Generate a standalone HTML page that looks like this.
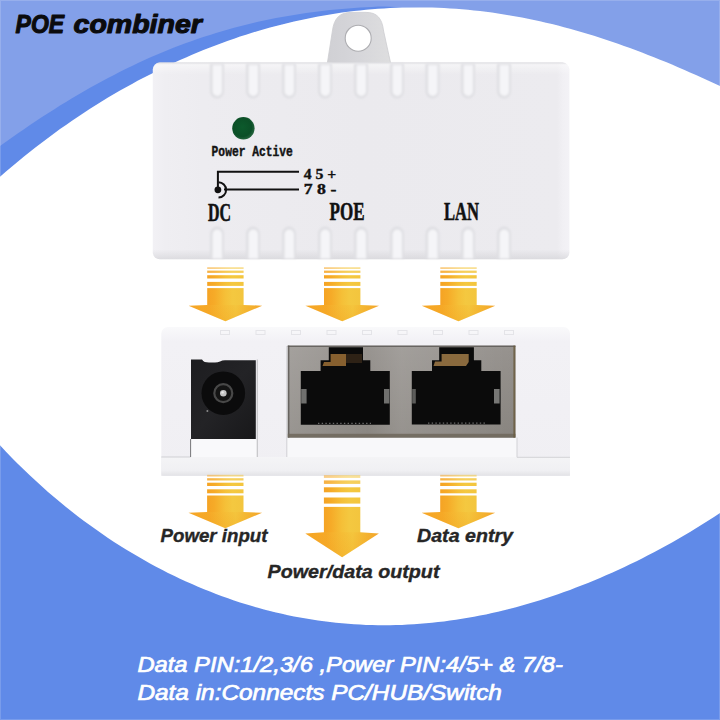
<!DOCTYPE html>
<html lang="en">
<head>
<meta charset="utf-8">
<title>POE combiner</title>
<style>
html,body{margin:0;padding:0;background:#fff;}
body{width:720px;height:720px;overflow:hidden;position:relative;font-family:"Liberation Sans",sans-serif;}
svg{position:absolute;left:0;top:0;display:block;}
text{font-family:"Liberation Sans",sans-serif;}
.t-title{font-weight:700;font-style:italic;font-size:26px;fill:#0b0b0d;stroke:#0b0b0d;stroke-width:1.1px;stroke-linejoin:round;}
.t-lab{font-weight:700;font-style:italic;font-size:18.5px;fill:#262626;stroke:#262626;stroke-width:0.35px;}
.t-bot{font-weight:400;font-style:italic;font-size:22px;fill:#ffffff;stroke:#ffffff;stroke-width:0.7px;}
.t-mono{font-family:"Liberation Mono",monospace;font-weight:700;fill:#141414;}
.t-dev{font-family:"Liberation Serif",serif;font-weight:700;fill:#111;}
</style>
</head>
<body>
<svg width="720" height="720" viewBox="0 0 720 720">
<defs>
<linearGradient id="gArrow" x1="0" y1="0" x2="1" y2="1">
  <stop offset="0" stop-color="#ffd94a"/>
  <stop offset="0.55" stop-color="#f9b125"/>
  <stop offset="1" stop-color="#f19418"/>
</linearGradient>
<linearGradient id="gBodyTop" x1="0" y1="0" x2="1" y2="0">
  <stop offset="0" stop-color="#f2f1f5"/>
  <stop offset="0.03" stop-color="#efeef2"/>
  <stop offset="0.12" stop-color="#edecf0"/>
  <stop offset="0.5" stop-color="#ebeaee"/>
  <stop offset="0.97" stop-color="#ecebef"/>
  <stop offset="0.985" stop-color="#f1f0f4"/>
  <stop offset="1" stop-color="#f3f2f6"/>
</linearGradient>
<linearGradient id="gSlot" x1="0" y1="0" x2="1" y2="0">
  <stop offset="0" stop-color="#dcdce0"/>
  <stop offset="0.35" stop-color="#f6f6f8"/>
  <stop offset="1" stop-color="#e6e6ea"/>
</linearGradient>
<radialGradient id="gLed" cx="0.45" cy="0.45" r="0.6">
  <stop offset="0" stop-color="#0c5a2c"/>
  <stop offset="0.7" stop-color="#0b4f27"/>
  <stop offset="1" stop-color="#2d6b45"/>
</radialGradient>
<linearGradient id="gMetal" x1="0" y1="0" x2="0" y2="1">
  <stop offset="0" stop-color="#96928e"/>
  <stop offset="1" stop-color="#88847f"/>
</linearGradient>
<linearGradient id="gTab" x1="0" y1="0" x2="1" y2="0">
  <stop offset="0" stop-color="#d0d0d4"/>
  <stop offset="0.5" stop-color="#d6d6da"/>
  <stop offset="1" stop-color="#dededf"/>
</linearGradient>
<linearGradient id="gBodyTopV" x1="0" y1="0" x2="0" y2="1">
  <stop offset="0" stop-color="#d8d8dc" stop-opacity="0.9"/>
  <stop offset="0.012" stop-color="#ffffff" stop-opacity="0.45"/>
  <stop offset="0.06" stop-color="#ffffff" stop-opacity="0"/>
  <stop offset="0.95" stop-color="#d0d0d4" stop-opacity="0"/>
  <stop offset="1" stop-color="#d0d0d4" stop-opacity="0.6"/>
</linearGradient>
<linearGradient id="gShaft" x1="0" y1="0" x2="1" y2="0">
  <stop offset="0" stop-color="#f5a324"/>
  <stop offset="0.2" stop-color="#f6ab28"/>
  <stop offset="0.5" stop-color="#f5c038"/>
  <stop offset="0.7" stop-color="#f4c840"/>
  <stop offset="1" stop-color="#f3c53e"/>
</linearGradient>
<linearGradient id="gHead" x1="0" y1="0" x2="1" y2="0">
  <stop offset="0" stop-color="#f6a626"/>
  <stop offset="0.28" stop-color="#f6a927"/>
  <stop offset="0.5" stop-color="#f5bd36"/>
  <stop offset="0.64" stop-color="#f4c53d"/>
  <stop offset="0.8" stop-color="#f4b632"/>
  <stop offset="1" stop-color="#f3a42a"/>
</linearGradient>
<linearGradient id="gHeadV" x1="0" y1="0" x2="0" y2="1">
  <stop offset="0" stop-color="#f09a1c" stop-opacity="0"/>
  <stop offset="1" stop-color="#f09a1c" stop-opacity="0.2"/>
</linearGradient>
<linearGradient id="gFront" x1="0" y1="0" x2="0" y2="1">
  <stop offset="0" stop-color="#f9f9fb"/>
  <stop offset="0.1" stop-color="#f2f1f5"/>
  <stop offset="1" stop-color="#f0eff3"/>
</linearGradient>
<linearGradient id="gBase" x1="0" y1="0" x2="0" y2="1">
  <stop offset="0" stop-color="#f4f4f6"/>
  <stop offset="0.7" stop-color="#f0f0f3"/>
  <stop offset="1" stop-color="#e2e2e6"/>
</linearGradient>
<linearGradient id="gJack" x1="0" y1="0" x2="1" y2="1">
  <stop offset="0" stop-color="#1d1d20"/>
  <stop offset="0.5" stop-color="#232326"/>
  <stop offset="1" stop-color="#18181a"/>
</linearGradient>
<linearGradient id="gMetalH" x1="0" y1="0" x2="1" y2="0">
  <stop offset="0" stop-color="#ffffff" stop-opacity="0.14"/>
  <stop offset="0.35" stop-color="#ffffff" stop-opacity="0.02"/>
  <stop offset="0.5" stop-color="#ffffff" stop-opacity="0.12"/>
  <stop offset="1" stop-color="#ffffff" stop-opacity="0"/>
</linearGradient>
<filter id="fSoft" x="-5%" y="-5%" width="110%" height="110%"><feGaussianBlur stdDeviation="0.9"/></filter>
</defs>
<g id="bg">
<rect x="0" y="0" width="720" height="720" fill="#ffffff"/>
<rect x="0" y="0" width="720" height="200" fill="#608ae8"/>
<path fill="#83a0e9" d="M-6.0,150.5 L0.0,146.1 L6.0,141.8 L12.0,137.5 L18.0,133.3 L24.0,129.2 L30.0,125.1 L36.0,121.0 L42.0,117.1 L48.0,113.2 L54.0,109.4 L60.0,105.6 L66.0,101.9 L72.0,98.3 L78.0,94.7 L84.0,91.2 L90.0,87.8 L96.0,84.5 L102.0,81.2 L108.0,78.0 L114.0,74.9 L120.0,71.8 L126.0,68.8 L132.0,65.9 L138.0,63.1 L144.0,60.3 L150.0,57.6 L156.0,55.0 L162.0,52.5 L168.0,50.0 L174.0,47.6 L180.0,45.3 L186.0,43.1 L192.0,40.9 L198.0,38.8 L204.0,36.8 L210.0,34.9 L216.0,33.0 L222.0,31.2 L228.0,29.4 L234.0,27.8 L240.0,26.2 L246.0,24.7 L252.0,23.2 L258.0,21.8 L264.0,20.5 L270.0,19.3 L276.0,18.1 L282.0,17.0 L288.0,15.9 L294.0,14.9 L300.0,14.0 L306.0,13.1 L312.0,12.3 L318.0,11.5 L324.0,10.8 L330.0,10.1 L336.0,9.5 L342.0,9.0 L348.0,8.5 L354.0,8.0 L360.0,7.6 L366.0,7.2 L372.0,6.9 L378.0,6.6 L384.0,6.6 L390.0,6.8 L396.0,7.0 L402.0,7.2 L408.0,7.4 L414.0,7.7 L420.0,8.1 L426.0,8.5 L432.0,9.0 L438.0,9.6 L444.0,10.0 L450.0,10.4 L456.0,10.8 L462.0,11.2 L468.0,11.8 L474.0,12.4 L480.0,13.0 L486.0,13.8 L492.0,14.6 L498.0,15.4 L504.0,16.4 L510.0,17.4 L516.0,18.4 L522.0,19.5 L528.0,20.7 L534.0,22.0 L540.0,23.3 L546.0,24.7 L552.0,26.1 L558.0,27.6 L564.0,29.2 L570.0,30.8 L576.0,32.5 L582.0,34.2 L588.0,36.0 L594.0,37.8 L600.0,39.8 L606.0,41.7 L612.0,43.7 L618.0,45.8 L624.0,47.9 L630.0,50.1 L636.0,52.3 L642.0,54.6 L648.0,56.9 L654.0,59.3 L660.0,61.7 L666.0,64.1 L672.0,66.6 L678.0,69.2 L684.0,71.8 L690.0,74.4 L696.0,77.0 L702.0,79.7 L708.0,82.4 L714.0,85.2 L720.0,87.9 L726.0,90.7 L726,-6 L-6,-6 Z"/>
<path fill="#ffffff" d="M-6.0,182.1 L0.0,176.8 L6.0,171.5 L12.0,166.4 L18.0,161.4 L24.0,156.5 L30.0,151.7 L36.0,147.0 L42.0,142.4 L48.0,137.9 L54.0,133.5 L60.0,129.1 L66.0,124.9 L72.0,120.7 L78.0,116.7 L84.0,112.7 L90.0,108.8 L96.0,105.0 L102.0,101.3 L108.0,97.6 L114.0,94.1 L120.0,90.6 L126.0,87.2 L132.0,83.9 L138.0,80.6 L144.0,77.5 L150.0,74.4 L156.0,71.4 L162.0,68.4 L168.0,65.5 L174.0,62.7 L180.0,60.0 L186.0,57.4 L192.0,54.8 L198.0,52.3 L204.0,49.8 L210.0,47.5 L216.0,45.2 L222.0,42.9 L228.0,40.8 L234.0,38.7 L240.0,36.6 L246.0,34.7 L252.0,32.8 L258.0,31.0 L264.0,29.2 L270.0,27.6 L276.0,25.9 L282.0,24.4 L288.0,22.9 L294.0,21.5 L300.0,20.2 L306.0,18.9 L312.0,17.7 L318.0,16.5 L324.0,15.4 L330.0,14.4 L336.0,13.5 L342.0,12.6 L348.0,11.8 L354.0,11.1 L360.0,10.4 L366.0,9.8 L372.0,9.3 L378.0,8.8 L384.0,8.4 L390.0,8.0 L396.0,7.8 L402.0,7.6 L408.0,7.4 L414.0,7.4 L420.0,7.4 L426.0,7.4 L432.0,7.6 L438.0,7.8 L444.0,8.0 L450.0,8.4 L456.0,8.8 L462.0,9.2 L468.0,9.8 L474.0,10.4 L480.0,11.0 L486.0,11.8 L492.0,12.6 L498.0,13.4 L504.0,14.4 L510.0,15.4 L516.0,16.4 L522.0,17.5 L528.0,18.7 L534.0,20.0 L540.0,21.3 L546.0,22.7 L552.0,24.1 L558.0,25.6 L564.0,27.2 L570.0,28.8 L576.0,30.5 L582.0,32.2 L588.0,34.0 L594.0,35.8 L600.0,37.8 L606.0,39.7 L612.0,41.7 L618.0,43.8 L624.0,45.9 L630.0,48.1 L636.0,50.3 L642.0,52.6 L648.0,54.9 L654.0,57.3 L660.0,59.7 L666.0,62.1 L672.0,64.6 L678.0,67.2 L684.0,69.8 L690.0,72.4 L696.0,75.0 L702.0,77.7 L708.0,80.4 L714.0,83.2 L720.0,85.9 L726.0,88.7 L726,400 L-6,400 Z"/>
<path fill="#608ae8" d="M-6.0,438.8 L0.0,445.3 L6.0,451.7 L12.0,457.9 L18.0,463.9 L24.0,469.8 L30.0,475.5 L36.0,481.1 L42.0,486.6 L48.0,491.9 L54.0,497.0 L60.0,502.1 L66.0,507.0 L72.0,511.7 L78.0,516.4 L84.0,520.9 L90.0,525.3 L96.0,529.6 L102.0,533.8 L108.0,537.9 L114.0,541.9 L120.0,545.7 L126.0,549.5 L132.0,553.1 L138.0,556.6 L144.0,560.1 L150.0,563.4 L156.0,566.7 L162.0,569.8 L168.0,572.9 L174.0,575.8 L180.0,578.7 L186.0,581.5 L192.0,584.1 L198.0,586.7 L204.0,589.2 L210.0,591.6 L216.0,594.0 L222.0,596.2 L228.0,598.3 L234.0,600.4 L240.0,602.4 L246.0,604.3 L252.0,606.1 L258.0,607.8 L264.0,609.4 L270.0,611.0 L276.0,612.5 L282.0,613.8 L288.0,615.2 L294.0,616.4 L300.0,617.5 L306.0,618.6 L312.0,619.6 L318.0,620.5 L324.0,621.3 L330.0,622.0 L336.0,622.7 L342.0,623.3 L348.0,623.8 L354.0,624.2 L360.0,624.6 L366.0,624.9 L372.0,625.0 L378.0,625.2 L384.0,625.2 L390.0,625.2 L396.0,625.1 L402.0,624.9 L408.0,624.6 L414.0,624.3 L420.0,623.8 L426.0,623.3 L432.0,622.8 L438.0,622.1 L444.0,621.4 L450.0,620.6 L456.0,619.8 L462.0,618.8 L468.0,617.8 L474.0,616.7 L480.0,615.6 L486.0,614.4 L492.0,613.1 L498.0,611.7 L504.0,610.3 L510.0,608.8 L516.0,607.2 L522.0,605.5 L528.0,603.8 L534.0,602.0 L540.0,600.2 L546.0,598.3 L552.0,596.3 L558.0,594.2 L564.0,592.1 L570.0,589.9 L576.0,587.6 L582.0,585.3 L588.0,582.9 L594.0,580.5 L600.0,577.9 L606.0,575.3 L612.0,572.7 L618.0,570.0 L624.0,567.2 L630.0,564.3 L636.0,561.4 L642.0,558.4 L648.0,555.3 L654.0,552.2 L660.0,549.0 L666.0,545.7 L672.0,542.4 L678.0,538.9 L684.0,535.5 L690.0,531.9 L696.0,528.3 L702.0,524.6 L708.0,520.8 L714.0,516.9 L720.0,513.0 L726.0,509.0 L726,726 L-6,726 Z"/>
<rect x="0.5" y="0.5" width="719" height="719" fill="none" stroke="#ffffff" stroke-opacity="0.16" stroke-width="1"/>
</g>
<g id="device-top">
  <!-- mounting tab -->
  <path d="M327.2,64 L332.4,31 C334,18 340,12.4 351,12.4 L366,12.4 C377,12.4 382,18 383.6,31 L390.8,64 Z" fill="url(#gTab)" stroke="#cdcdd1" stroke-width="0.8"/>
  <circle cx="358.2" cy="38.2" r="13" fill="#ffffff" stroke="#adadb1" stroke-width="1.1"/>
  <!-- body -->
  <rect x="152.8" y="62.6" width="416.6" height="196.6" rx="7" ry="7" fill="url(#gBodyTop)"/>
  <rect x="152.8" y="62.6" width="416.6" height="196.6" rx="7" ry="7" fill="url(#gBodyTopV)"/>
  <!-- slots -->
  <g filter="url(#fSoft)">
    <path d="M210.0,63.5 h14 v28 a7,7 0 0 1 -14,0 Z" fill="#dfdfe3"/>
    <path d="M212.6,65 h9.4 v26.2 a4.7,4.7 0 0 1 -9.4,0 Z" fill="#f5f5f8"/>
    <path d="M210.0,258.6 h14 v-25 a7,7 0 0 0 -14,0 Z" fill="#dfdfe3"/>
    <path d="M212.6,258.6 h9.4 v-24.4 a4.7,4.7 0 0 0 -9.4,0 Z" fill="#f5f5f8"/>
    <path d="M246.0,63.5 h14 v28 a7,7 0 0 1 -14,0 Z" fill="#dfdfe3"/>
    <path d="M248.6,65 h9.4 v26.2 a4.7,4.7 0 0 1 -9.4,0 Z" fill="#f5f5f8"/>
    <path d="M246.0,258.6 h14 v-25 a7,7 0 0 0 -14,0 Z" fill="#dfdfe3"/>
    <path d="M248.6,258.6 h9.4 v-24.4 a4.7,4.7 0 0 0 -9.4,0 Z" fill="#f5f5f8"/>
    <path d="M282.0,63.5 h14 v28 a7,7 0 0 1 -14,0 Z" fill="#dfdfe3"/>
    <path d="M284.6,65 h9.4 v26.2 a4.7,4.7 0 0 1 -9.4,0 Z" fill="#f5f5f8"/>
    <path d="M282.0,258.6 h14 v-25 a7,7 0 0 0 -14,0 Z" fill="#dfdfe3"/>
    <path d="M284.6,258.6 h9.4 v-24.4 a4.7,4.7 0 0 0 -9.4,0 Z" fill="#f5f5f8"/>
    <path d="M318.0,63.5 h14 v28 a7,7 0 0 1 -14,0 Z" fill="#dfdfe3"/>
    <path d="M320.6,65 h9.4 v26.2 a4.7,4.7 0 0 1 -9.4,0 Z" fill="#f5f5f8"/>
    <path d="M318.0,258.6 h14 v-25 a7,7 0 0 0 -14,0 Z" fill="#dfdfe3"/>
    <path d="M320.6,258.6 h9.4 v-24.4 a4.7,4.7 0 0 0 -9.4,0 Z" fill="#f5f5f8"/>
    <path d="M354.0,63.5 h14 v28 a7,7 0 0 1 -14,0 Z" fill="#dfdfe3"/>
    <path d="M356.6,65 h9.4 v26.2 a4.7,4.7 0 0 1 -9.4,0 Z" fill="#f5f5f8"/>
    <path d="M354.0,258.6 h14 v-25 a7,7 0 0 0 -14,0 Z" fill="#dfdfe3"/>
    <path d="M356.6,258.6 h9.4 v-24.4 a4.7,4.7 0 0 0 -9.4,0 Z" fill="#f5f5f8"/>
    <path d="M390.0,63.5 h14 v28 a7,7 0 0 1 -14,0 Z" fill="#dfdfe3"/>
    <path d="M392.6,65 h9.4 v26.2 a4.7,4.7 0 0 1 -9.4,0 Z" fill="#f5f5f8"/>
    <path d="M390.0,258.6 h14 v-25 a7,7 0 0 0 -14,0 Z" fill="#dfdfe3"/>
    <path d="M392.6,258.6 h9.4 v-24.4 a4.7,4.7 0 0 0 -9.4,0 Z" fill="#f5f5f8"/>
    <path d="M425.5,63.5 h14 v28 a7,7 0 0 1 -14,0 Z" fill="#dfdfe3"/>
    <path d="M428.1,65 h9.4 v26.2 a4.7,4.7 0 0 1 -9.4,0 Z" fill="#f5f5f8"/>
    <path d="M425.5,258.6 h14 v-25 a7,7 0 0 0 -14,0 Z" fill="#dfdfe3"/>
    <path d="M428.1,258.6 h9.4 v-24.4 a4.7,4.7 0 0 0 -9.4,0 Z" fill="#f5f5f8"/>
    <path d="M461.0,63.5 h14 v28 a7,7 0 0 1 -14,0 Z" fill="#dfdfe3"/>
    <path d="M463.6,65 h9.4 v26.2 a4.7,4.7 0 0 1 -9.4,0 Z" fill="#f5f5f8"/>
    <path d="M461.0,258.6 h14 v-25 a7,7 0 0 0 -14,0 Z" fill="#dfdfe3"/>
    <path d="M463.6,258.6 h9.4 v-24.4 a4.7,4.7 0 0 0 -9.4,0 Z" fill="#f5f5f8"/>
    <path d="M497.0,63.5 h14 v28 a7,7 0 0 1 -14,0 Z" fill="#dfdfe3"/>
    <path d="M499.6,65 h9.4 v26.2 a4.7,4.7 0 0 1 -9.4,0 Z" fill="#f5f5f8"/>
    <path d="M497.0,258.6 h14 v-25 a7,7 0 0 0 -14,0 Z" fill="#dfdfe3"/>
    <path d="M499.6,258.6 h9.4 v-24.4 a4.7,4.7 0 0 0 -9.4,0 Z" fill="#f5f5f8"/>
  </g>
  <!-- led -->
  <circle cx="243.4" cy="128.3" r="11.2" fill="url(#gLed)"/>
  <!-- print -->
  <text class="t-mono" x="211.6" y="155.6" font-size="14.6" stroke="#141414" stroke-width="0.45" textLength="81.2" lengthAdjust="spacingAndGlyphs">Power Active</text>
  <path d="M299,171.8 H217.9 V187" fill="none" stroke="#111" stroke-width="2"/>
  <path d="M224,189.5 H299" fill="none" stroke="#111" stroke-width="2"/>
  <circle cx="217.9" cy="189.8" r="3.4" fill="#111"/>
  <path d="M218.5,182.3 A7.6,7.6 0 0 1 218.5,197.5" fill="none" stroke="#111" stroke-width="2"/>
  <text class="t-dev" x="303.8" y="179.4" font-size="15" stroke="#111" stroke-width="0.4" textLength="32.5" lengthAdjust="spacingAndGlyphs">4 5 +</text>
  <text class="t-dev" x="303.8" y="194.4" font-size="15" stroke="#111" stroke-width="0.4" textLength="32.5" lengthAdjust="spacingAndGlyphs">7 8 -</text>
  <text class="t-dev" x="208" y="220.6" font-size="25" stroke="#111" stroke-width="0.55" textLength="23" lengthAdjust="spacingAndGlyphs">DC</text>
  <text class="t-dev" x="329.5" y="220.2" font-size="25" stroke="#111" stroke-width="0.55" textLength="35" lengthAdjust="spacingAndGlyphs">POE</text>
  <text class="t-dev" x="444" y="220.2" font-size="25" stroke="#111" stroke-width="0.55" textLength="35" lengthAdjust="spacingAndGlyphs">LAN</text>
</g>
<g id="arrows-1">
<rect x="207.2" y="267.2" width="36.4" height="1.8" fill="url(#gShaft)" opacity="0.55"/>
<rect x="207.2" y="270.6" width="36.4" height="2.3" fill="url(#gShaft)" opacity="0.85"/>
<rect x="207.2" y="275.2" width="36.4" height="3.3" fill="url(#gShaft)" opacity="1"/>
<rect x="207.2" y="281.9" width="36.4" height="4.0" fill="url(#gShaft)" opacity="1"/>
<rect x="207.2" y="288.1" width="36.4" height="18.2" fill="url(#gShaft)"/>
<path d="M188.6,305.7 L207.2,304.9 L243.6,304.9 L262.2,305.7 L225.4,321.3 Z" fill="url(#gHead)"/>
<path d="M188.6,305.7 L207.2,304.9 L243.6,304.9 L262.2,305.7 L225.4,321.3 Z" fill="url(#gHeadV)"/>
<rect x="324.0" y="267.2" width="36.4" height="1.8" fill="url(#gShaft)" opacity="0.55"/>
<rect x="324.0" y="270.6" width="36.4" height="2.3" fill="url(#gShaft)" opacity="0.85"/>
<rect x="324.0" y="275.2" width="36.4" height="3.3" fill="url(#gShaft)" opacity="1"/>
<rect x="324.0" y="281.9" width="36.4" height="4.0" fill="url(#gShaft)" opacity="1"/>
<rect x="324.0" y="288.1" width="36.4" height="18.2" fill="url(#gShaft)"/>
<path d="M305.4,305.7 L324.0,304.9 L360.4,304.9 L379.0,305.7 L342.2,321.3 Z" fill="url(#gHead)"/>
<path d="M305.4,305.7 L324.0,304.9 L360.4,304.9 L379.0,305.7 L342.2,321.3 Z" fill="url(#gHeadV)"/>
<rect x="440.3" y="267.2" width="36.4" height="1.8" fill="url(#gShaft)" opacity="0.55"/>
<rect x="440.3" y="270.6" width="36.4" height="2.3" fill="url(#gShaft)" opacity="0.85"/>
<rect x="440.3" y="275.2" width="36.4" height="3.3" fill="url(#gShaft)" opacity="1"/>
<rect x="440.3" y="281.9" width="36.4" height="4.0" fill="url(#gShaft)" opacity="1"/>
<rect x="440.3" y="288.1" width="36.4" height="18.2" fill="url(#gShaft)"/>
<path d="M421.7,305.7 L440.3,304.9 L476.7,304.9 L495.3,305.7 L458.5,321.3 Z" fill="url(#gHead)"/>
<path d="M421.7,305.7 L440.3,304.9 L476.7,304.9 L495.3,305.7 L458.5,321.3 Z" fill="url(#gHeadV)"/>
</g>
<g id="device-front">
  <!-- body -->
  <path d="M161.3,333.5 a6.5,6.5 0 0 1 6.5,-6.5 H563.5 a6.5,6.5 0 0 1 6.5,6.5 V472.8 a3,3 0 0 1 -3,3 H164.3 a3,3 0 0 1 -3,-3 Z" fill="url(#gFront)"/>
  <!-- lighter panels under sockets -->
  <rect x="191" y="439" width="66" height="18" fill="#f9f9fb"/>
  <rect x="287" y="438" width="230" height="19" fill="#f8f8fa"/>
  <!-- base plate shading -->
  <rect x="161.3" y="457" width="408.7" height="18.8" fill="url(#gBase)"/>
  <!-- top bumps -->
  <g fill="none" stroke="#e4e4e8" stroke-width="1">
    <rect x="220.5" y="330.5" width="9" height="4"/><rect x="256" y="330.5" width="9" height="4"/>
    <rect x="291.5" y="330.5" width="9" height="4"/><rect x="327" y="330.5" width="9" height="4"/>
    <rect x="362.5" y="330.5" width="9" height="4"/><rect x="398" y="330.5" width="9" height="4"/>
    <rect x="433.5" y="330.5" width="9" height="4"/><rect x="469" y="330.5" width="9" height="4"/>
    <rect x="504.5" y="330.5" width="9" height="4"/>
  </g>
  <!-- seams -->
  <path d="M161.3,457 H190.6" fill="none" stroke="#cfcfd3" stroke-width="1"/>
  <path d="M190.6,439 V457" fill="none" stroke="#77777a" stroke-width="1"/>
  <path d="M257.3,359.5 V457" fill="none" stroke="#c4c4c8" stroke-width="1.2"/>
  <path d="M286.8,346 V457" fill="none" stroke="#d0d0d4" stroke-width="1"/>
  <path d="M517,437.5 V457.3 H570" fill="none" stroke="#d2d2d6" stroke-width="1"/>
  <!-- dc jack -->
  <path d="M191,359.6 H202 C203.5,362 205.5,362.6 209,362.6 H215 C219,362.6 221,360.2 225,360.2 H255.8 V439 H191 Z" fill="url(#gJack)"/>
  <circle cx="223.3" cy="393.2" r="21.8" fill="#0b0b0c"/>
  <circle cx="223.3" cy="393.2" r="9" fill="#141414" stroke="#484848" stroke-width="2.2"/>
  <circle cx="223.3" cy="393.2" r="3.3" fill="#c4c4c4"/>
  <circle cx="222.6" cy="392.4" r="1.2" fill="#ececec"/>
  <circle cx="207.4" cy="411.1" r="1" fill="#8a8a8a"/>
  <!-- rj45 housing -->
  <rect x="287.8" y="345.6" width="227.6" height="92" fill="url(#gMetal)"/>
  <rect x="287.8" y="345.6" width="227.6" height="92" fill="url(#gMetalH)"/>
  <rect x="287.8" y="345.6" width="227.6" height="1.4" fill="#5a5652" opacity="0.8"/>
  <rect x="287.8" y="345.6" width="1.6" height="92" fill="#5a5652" opacity="0.8"/>
  <rect x="287.8" y="433.8" width="227.6" height="3.8" fill="#6e675c" opacity="0.85"/>
  <rect x="513.4" y="345.6" width="2" height="92" fill="#6a5c40" opacity="0.85"/>
  <!-- port 1 -->
  <path d="M300.8,371.1 H320.6 V360.3 H328.8 V347.3 H363 V360.3 H370.3 V371.1 H389.8 V424.7 H300.8 Z" fill="#0b0b0b"/>
  <path d="M322.5,366 L324,362 H330.6 V354 H346 V366 Z" fill="#87602f"/>
  <rect x="346" y="354" width="16" height="9" fill="#2e2216"/>
  <rect x="301.2" y="389" width="5.4" height="14.5" fill="#70706e"/>
  <rect x="384" y="389" width="5.4" height="14.5" fill="#70706e"/>
  <path d="M318,423.4 H371" stroke="#6b6b6b" stroke-width="1.2" stroke-dasharray="1.4 2.3" fill="none"/>
  <!-- port 2 -->
  <path d="M411.8,371.1 H432 V360.3 H439.2 V347.3 H473.9 V360.3 H481.3 V371.1 H500.6 V424.5 H411.8 Z" fill="#0b0b0b"/>
  <path d="M433.5,366 L435,361.5 H441.6 V354 H468.7 V362 L466,366 Z" fill="#8a6a3e"/>
  <rect x="412.2" y="389" width="3.6" height="14.5" fill="#5c5c5a"/>
  <rect x="494" y="389" width="5.6" height="14.5" fill="#777775"/>
  <path d="M428,423.2 H485" stroke="#6b6b6b" stroke-width="1.2" stroke-dasharray="1.4 2.3" fill="none"/>
</g>
<g id="arrows-2">
<rect x="207.1" y="474.8" width="36.4" height="1.8" fill="url(#gShaft)" opacity="0.55"/>
<rect x="207.1" y="478.2" width="36.4" height="2.3" fill="url(#gShaft)" opacity="0.85"/>
<rect x="207.1" y="482.7" width="36.4" height="3.3" fill="url(#gShaft)" opacity="1"/>
<rect x="207.1" y="489.3" width="36.4" height="4.0" fill="url(#gShaft)" opacity="1"/>
<rect x="207.1" y="495.5" width="36.4" height="18.0" fill="url(#gShaft)"/>
<path d="M188.5,512.8 L207.1,512.0 L243.5,512.0 L262.1,512.8 L225.3,528.2 Z" fill="url(#gHead)"/>
<path d="M188.5,512.8 L207.1,512.0 L243.5,512.0 L262.1,512.8 L225.3,528.2 Z" fill="url(#gHeadV)"/>
<rect x="323.9" y="475.2" width="36.4" height="2.7" fill="url(#gShaft)" opacity="0.55"/>
<rect x="323.9" y="480.4" width="36.4" height="3.5" fill="url(#gShaft)" opacity="0.85"/>
<rect x="323.9" y="487.3" width="36.4" height="5.0" fill="url(#gShaft)" opacity="1"/>
<rect x="323.9" y="497.5" width="36.4" height="6.1" fill="url(#gShaft)" opacity="1"/>
<rect x="323.9" y="506.9" width="36.4" height="27.4" fill="url(#gShaft)"/>
<path d="M305.3,533.5 L323.9,532.3 L360.3,532.3 L378.9,533.5 L342.1,557.2 Z" fill="url(#gHead)"/>
<path d="M305.3,533.5 L323.9,532.3 L360.3,532.3 L378.9,533.5 L342.1,557.2 Z" fill="url(#gHeadV)"/>
<rect x="440.2" y="474.8" width="36.4" height="1.8" fill="url(#gShaft)" opacity="0.55"/>
<rect x="440.2" y="478.2" width="36.4" height="2.3" fill="url(#gShaft)" opacity="0.85"/>
<rect x="440.2" y="482.7" width="36.4" height="3.3" fill="url(#gShaft)" opacity="1"/>
<rect x="440.2" y="489.3" width="36.4" height="4.0" fill="url(#gShaft)" opacity="1"/>
<rect x="440.2" y="495.5" width="36.4" height="18.0" fill="url(#gShaft)"/>
<path d="M421.6,512.8 L440.2,512.0 L476.6,512.0 L495.2,512.8 L458.4,528.2 Z" fill="url(#gHead)"/>
<path d="M421.6,512.8 L440.2,512.0 L476.6,512.0 L495.2,512.8 L458.4,528.2 Z" fill="url(#gHeadV)"/>
</g>
<g id="labels">
  <text class="t-title" y="33"><tspan x="15.6" textLength="48.5" lengthAdjust="spacingAndGlyphs">POE</tspan> <tspan x="73.6" textLength="128.3" lengthAdjust="spacingAndGlyphs">combiner</tspan></text>
  <text class="t-lab" x="160.5" y="542" textLength="107" lengthAdjust="spacingAndGlyphs">Power input</text>
  <text class="t-lab" x="417" y="542" textLength="96" lengthAdjust="spacingAndGlyphs">Data entry</text>
  <text class="t-lab" x="267.5" y="577.5" textLength="172" lengthAdjust="spacingAndGlyphs">Power/data output</text>
  <text class="t-bot" x="137.4" y="672" textLength="425.5" lengthAdjust="spacingAndGlyphs">Data PIN:1/2,3/6 ,Power PIN:4/5+ &amp; 7/8-</text>
  <text class="t-bot" x="137.4" y="700" textLength="364.5" lengthAdjust="spacingAndGlyphs">Data in:Connects PC/HUB/Switch</text>
</g>
</svg>
</body>
</html>
